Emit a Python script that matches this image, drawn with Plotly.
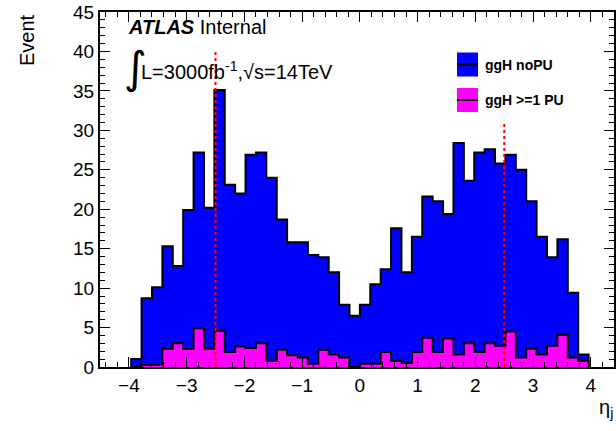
import numpy as np
import plotly.graph_objects as go

# ---- data ----
bin_first_edge = -3.96
bin_width = 0.18
nopu = [1.0, 8.7, 10.1, 15.3, 12.8, 19.9, 27.2, 20.2, 35.1, 23.1, 22.0, 26.9,
        27.2, 24.0, 18.7, 15.8, 15.8, 14.2, 13.9, 12.0, 7.9, 6.5, 7.9, 10.5,
        12.4, 17.6, 12.0, 16.5, 21.6, 21.0, 19.4, 28.4, 23.6, 27.2, 27.6, 25.8,
        26.9, 25.0, 21.0, 16.5, 13.9, 16.2, 9.4, 1.6]
pu = [0.0, 0.3, 0.3, 2.3, 3.0, 2.3, 4.9, 2.3, 4.6, 1.9, 2.6, 2.4,
      3.0, 0.8, 2.2, 1.5, 1.2, 0.4, 2.2, 1.6, 1.2, 0.0, 0.4, 0.4,
      1.9, 0.8, 0.5, 1.9, 3.7, 1.9, 3.6, 1.6, 3.0, 1.9, 3.0, 2.7,
      4.5, 1.2, 2.3, 1.6, 2.7, 4.1, 1.2, 0.8]
cut_eta = [-2.5, 2.5]
cut_top = [40.0, 31.0]
series_names = ["ggH noPU", "ggH >=1 PU"]
series_colors = ["#0000ff", "#ff00ff"]
x_ticks = [-4, -3, -2, -1, 0, 1, 2, 3, 4]
y_ticks = [0, 5, 10, 15, 20, 25, 30, 35, 40, 45]

edges = bin_first_edge + bin_width * np.arange(len(nopu) + 1)


def step_xy(vals):
    xs = [edges[0]] + list(edges[:-1]) + [edges[-1]]
    ys = [0.0] + list(vals) + [0.0]
    return xs, ys


fig = go.Figure()
for vals, name, col in zip([nopu, pu], series_names, series_colors):
    xs, ys = step_xy(vals)
    fig.add_trace(go.Scatter(x=xs, y=ys, mode="lines", line_shape="hv",
                             fill="tozeroy", fillcolor=col,
                             line=dict(color="black", width=2),
                             name=name, showlegend=False, hoverinfo="skip"))

for xe, yt in zip(cut_eta, cut_top):
    fig.add_trace(go.Scatter(x=[xe, xe], y=[0, yt], mode="lines",
                             line=dict(color="red", width=2, dash="dot"),
                             showlegend=False, hoverinfo="skip"))

W, H = 616, 431
L, R, T, B = 100, 614, 12, 367


def px(x):
    return (x - L) / (R - L)


def py(y):
    return (B - y) / (B - T)


FONT = "Liberation Sans, Arial, Helvetica, sans-serif"

axis_common = dict(showline=True, linecolor="black", linewidth=2, mirror="allticks",
                   ticks="inside", tickcolor="black", tickwidth=1, ticklen=10,
                   showgrid=False, zeroline=False, layer="above traces", automargin=False,
                   ticklabeloverflow="allow",
                   tickfont=dict(family=FONT, size=19, color="black"))

fig.update_layout(
    width=W, height=H,
    margin=dict(l=L, r=W - R, t=T, b=H - B, autoexpand=False),
    paper_bgcolor="white", plot_bgcolor="white",
    xaxis=dict(range=[-4.5, 4.4], tickvals=x_ticks,
               minor=dict(ticks="inside", dtick=0.2, tick0=0, ticklen=5, tickcolor="black"),
               **axis_common),
    yaxis=dict(range=[0, 45], tickvals=y_ticks,
               minor=dict(ticks="inside", dtick=1, tick0=0, ticklen=5, tickcolor="black"),
               **axis_common),
    showlegend=False,
)

ann = []
# axis titles
ann.append(dict(text="Event", x=px(27), y=py(12), xref="paper", yref="paper",
                xanchor="center", yanchor="top", textangle=-90, showarrow=False,
                font=dict(family=FONT, size=20, color="black")))
ann.append(dict(text="η<sub>j</sub>", x=px(615), y=py(408), xref="paper", yref="paper",
                xanchor="right", yanchor="middle", showarrow=False,
                font=dict(family=FONT, size=20, color="black")))
# ATLAS label
ann.append(dict(text="<b><i>ATLAS</i></b> Internal", x=px(126), y=py(27), xref="paper", yref="paper",
                xanchor="left", yanchor="middle", showarrow=False,
                font=dict(family=FONT, size=20, color="black")))
ann.append(dict(text="∫", x=px(122), y=py(67), xref="paper", yref="paper",
                xanchor="left", yanchor="middle", showarrow=False,
                font=dict(family="DejaVu Sans", size=44, color="black")))
ann.append(dict(text="L=3000fb<sup>-1</sup>,√s=14TeV", x=px(139), y=py(70), xref="paper", yref="paper",
                xanchor="left", yanchor="middle", showarrow=False,
                font=dict(family=FONT, size=20, color="black")))

# legend
shapes = []
for i, (name, col) in enumerate(zip(series_names, series_colors)):
    yc = 64.5 + 35.5 * i
    shapes.append(dict(type="rect", xref="paper", yref="paper",
                       x0=px(457), x1=px(478), y0=py(yc + 12), y1=py(yc - 12),
                       fillcolor=col, line=dict(width=0)))
    shapes.append(dict(type="line", xref="paper", yref="paper",
                       x0=px(457), x1=px(478), y0=py(yc), y1=py(yc),
                       line=dict(color="black", width=2)))
    ann.append(dict(text="<b>" + name.replace(">", "&gt;") + "</b>", x=px(483), y=py(yc),
                    xref="paper", yref="paper", xanchor="left", yanchor="middle",
                    showarrow=False, font=dict(family=FONT, size=14, color="black")))

fig.update_layout(annotations=ann, shapes=shapes)
fig.write_html("out.html", config={"displayModeBar": False},
               post_script="document.body.style.margin='0px';")
